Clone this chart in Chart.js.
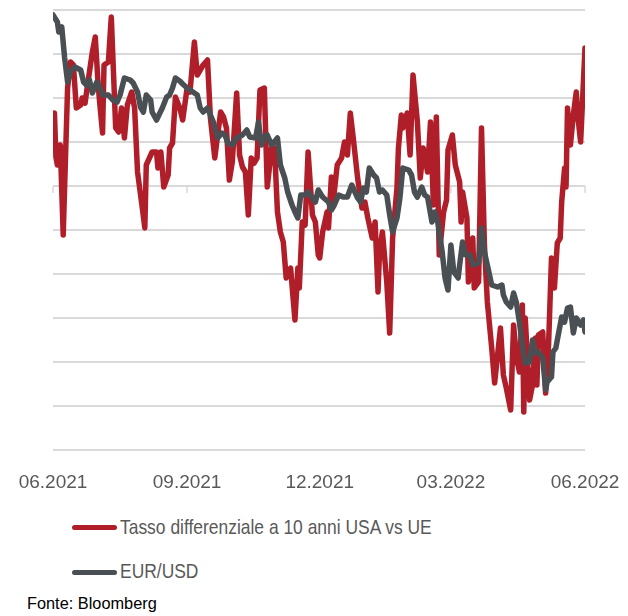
<!DOCTYPE html>
<html>
<head>
<meta charset="utf-8">
<script src="https://cdn.jsdelivr.net/npm/chart.js@4"></script>
<style>
  body { margin: 0; width: 628px; height: 616px; overflow: hidden; background: #fff; position: relative;
         font-family: "Liberation Sans", Arial, sans-serif; }
  #wrap { position: absolute; left: 0; top: 0; width: 680px; height: 500px; }
  .leg-line { position: absolute; left: 72px; width: 45px; height: 5px; border-radius: 3px; }
  .leg-text { position: absolute; left: 120px; font-size: 21px; color: #595959; line-height: 24px; white-space: nowrap;
              transform: scaleX(0.83); transform-origin: 0 50%; }
  #source { position: absolute; left: 27px; top: 594px; font-size: 17px; color: #000; line-height: 20px; white-space: nowrap;
            transform: scaleX(0.96); transform-origin: 0 50%; }
</style>
</head>
<body>
<div id="wrap"><canvas id="chart" width="680" height="500"></canvas></div>

<div class="leg-line" style="top:525px; background:#b01f29;"></div>
<div class="leg-text" style="top:515px;">Tasso differenziale a 10 anni USA vs UE</div>
<div class="leg-line" style="top:570px; background:#4a4f54;"></div>
<div class="leg-text" style="top:559px;">EUR/USD</div>
<div id="source">Fonte: Bloomberg</div>

<script>
// --- dati (giorni dal 01.06.2021) ---
const TICK_DAYS = [0, 92, 183, 273, 365];
const TICK_LABELS = ['06.2021', '09.2021', '12.2021', '03.2022', '06.2022'];
const AXIS_CROSS = 150;

// spread 10 anni USA - UE (bp)
const spreadDays = [0,1,2,3,5,7,10,12,14,16,19,20,22,24,27,29,31,32,34,35,38,40,43,45,47,49,51,54,56,58,
  61,63,64,68,71,72,74,76,79,80,82,84,87,89,92,94,97,99,103,106,108,111,115,117,119,121,123,126,128,130,
  132,134,136,138,140,142,145,147,150,152,154,156,158,160,163,166,168,169,171,173,175,178,180,182,183,185,188,189,191,192,
  195,198,200,202,204,206,209,212,214,216,219,221,223,224,226,229,231,233,236,237,239,240,243,245,247,250,252,254,257,259,
  261,263,265,268,270,271,274,276,279,280,281,284,285,288,289,292,294,296,298,301,303,307,309,311,314,316,318,320,322,323,
  324,327,329,331,332,333,336,338,340,342,344,346,348,349,351,352,353,355,357,359,360,362,365];
const spreadValues = [168,186.5,164.5,160.5,170.5,125.5,199,212,210.5,189,190.5,194,191.5,202,217,224.5,200.5,192,176.5,210.5,
  212,234.5,179,177,189,174,190.5,197,189,157,140.5,129,160.5,167,167,159,167,149.5,155.5,169,
  171.5,194.5,189,183,199,197,222,205.5,210.5,213,184,164,187,184.5,179,153,162,196.5,165.5,159.5,
  157,135.5,164,161.5,164,198,199,149.5,169,169,137,127,122,104,109,83,109,99,132,130.5,
  167,135.5,132,115.5,114,127,137,129,154.5,140.5,160.5,164,172,165.5,186.5,174,154,139,142,134,
  124,132,97,117,127,102,76.5,124,149,169,185.5,179,186.5,165.5,205.5,182,154,169,157,182,
  140.5,184.5,115.5,137,143,168,175.5,160.5,152,132,147,134,102,124,99,102,179,120.5,92,69,
  51.5,79,55.5,49,38,80.5,64,57,90.5,37,84,43,50.5,74,50.5,75.5,77,46.5,70.5,114,
  99,121.5,124,142,159,149.5,189,170.5,185.5,197,185.5,172,219];

// EUR/USD
const eurDays = [0,3,4,6,8,10,12,15,19,21,23,25,27,30,32,34,38,41,44,46,49,53,55,58,60,62,64,67,68,71,
  75,78,80,82,84,87,89,92,96,99,101,103,106,108,110,113,116,118,120,123,126,130,133,135,139,141,143,145,147,150,
  154,156,159,161,164,166,168,170,173,175,178,180,182,185,189,191,193,196,199,202,205,209,211,213,215,217,220,222,224,226,
  229,231,233,236,238,240,244,246,248,250,253,255,257,260,262,264,267,269,271,273,275,278,279,281,283,286,288,292,294,296,
  298,301,305,308,309,311,314,316,318,320,322,324,327,329,331,333,336,338,339,342,343,345,346,349,351,353,355,357,359,362,364,365];
const eurValues = [1.2275,1.224,1.219,1.2215,1.206,1.194,1.199,1.2015,1.2,1.194,1.1925,1.195,1.1885,1.194,1.1915,1.1875,1.1875,1.185,1.184,1.1875,
  1.196,1.195,1.1935,1.189,1.1815,1.179,1.1875,1.185,1.179,1.175,1.181,1.1865,1.1875,1.191,1.196,1.1945,1.193,1.191,1.189,1.1875,
  1.181,1.179,1.181,1.1775,1.174,1.166,1.1685,1.1675,1.1635,1.1625,1.166,1.1675,1.17,1.1665,1.166,1.174,1.1625,1.1665,1.1675,1.1625,
  1.166,1.1525,1.146,1.139,1.1325,1.129,1.126,1.1375,1.1375,1.139,1.136,1.134,1.14,1.1365,1.134,1.13,1.1325,1.1375,1.1365,1.1365,
  1.1425,1.136,1.134,1.141,1.139,1.151,1.1475,1.146,1.139,1.14,1.1375,1.1275,1.119,1.126,1.136,1.151,1.15,1.1475,1.139,1.1365,
  1.1415,1.1375,1.1365,1.124,1.129,1.124,1.109,1.096,1.09,1.1125,1.099,1.096,1.1025,1.114,1.1075,1.1075,1.1025,1.1035,1.121,1.109,
  1.1025,1.0925,1.0915,1.0925,1.0875,1.084,1.0815,1.0885,1.0835,1.074,1.0625,1.0535,1.054,1.065,1.0585,1.059,1.056,1.04,1.044,1.0465,
  1.059,1.061,1.065,1.0765,1.074,1.081,1.0815,1.0685,1.076,1.0725,1.075,1.069];

const RED = '#b01f29';
const GRAY = '#4a4f54';
const FONT = '"Liberation Sans", Arial, sans-serif';

// piccoli tick dell'asse orizzontale (incrocia a AXIS_CROSS)
const axisTicks = {
  id: 'axisTicks',
  beforeDatasetsDraw(chart) {
    const { ctx, scales: { x, y } } = chart;
    const yp = y.getPixelForValue(AXIS_CROSS);
    ctx.save();
    ctx.strokeStyle = '#d9d9d9';
    ctx.lineWidth = 1.5;
    TICK_DAYS.forEach(d => {
      const xp = x.getPixelForValue(d);
      ctx.beginPath();
      ctx.moveTo(xp, yp);
      ctx.lineTo(xp, yp + 7);
      ctx.stroke();
    });
    ctx.restore();
  }
};

const ctx = document.getElementById('chart').getContext('2d');
new Chart(ctx, {
  type: 'line',
  data: {
    datasets: [{
      label: 'Tasso differenziale a 10 anni USA vs UE',
      data: spreadDays.map((d, i) => ({ x: d, y: spreadValues[i] })),
      borderColor: RED, borderWidth: 5.5, pointRadius: 0, tension: 0,
      borderJoinStyle: 'round', borderCapStyle: 'round',
      yAxisID: 'y', order: 1
    }, {
      label: 'EUR/USD',
      data: eurDays.map((d, i) => ({ x: d, y: eurValues[i] })),
      borderColor: GRAY, borderWidth: 5.5, pointRadius: 0, tension: 0,
      borderJoinStyle: 'round', borderCapStyle: 'round',
      yAxisID: 'y2', order: 0
    }]
  },
  options: {
    responsive: false,
    animation: false,
    layout: { padding: { left: 53, right: 95, top: 10, bottom: 0 } },
    plugins: { legend: { display: false }, tooltip: { enabled: false } },
    scales: {
      x: {
        type: 'linear', min: 0, max: 365,
        grid: { display: false }, border: { display: false },
        afterBuildTicks: s => { s.ticks = TICK_DAYS.map(v => ({ value: v })); },
        afterFit: s => { s.height = 50; },
        ticks: {
          autoSkip: false, maxRotation: 0, padding: 13, color: '#595959',
          font: { family: FONT, size: 19 },
          callback: (v, i) => TICK_LABELS[i]
        }
      },
      y: {
        min: 18, max: 238,
        afterFit: s => { s.width = 0; },
        ticks: { display: false, stepSize: 22 },
        grid: { color: '#d9d9d9', lineWidth: 2, drawTicks: false },
        border: { display: false }
      },
      y2: { position: 'right', display: false, min: 1.01, max: 1.23 }
    }
  },
  plugins: [axisTicks]
});
</script>
</body>
</html>
